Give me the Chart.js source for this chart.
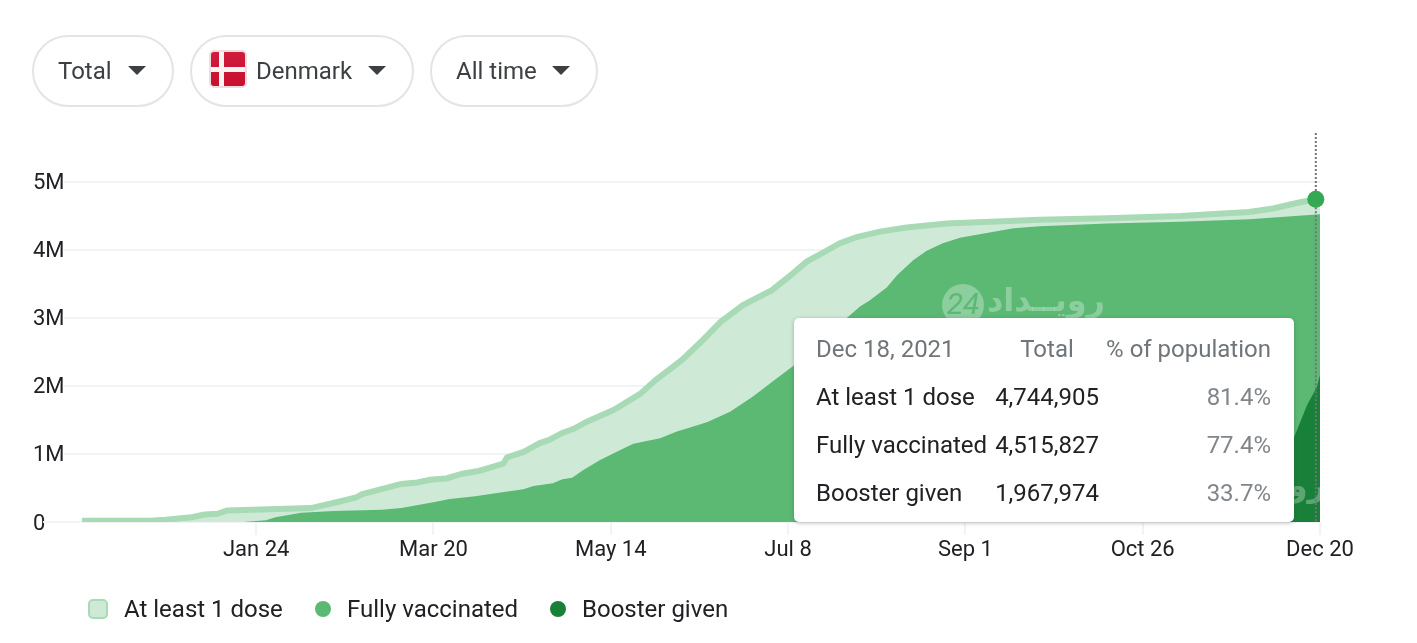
<!DOCTYPE html>
<html>
<head>
<meta charset="utf-8">
<title>Vaccinations in Denmark</title>
<script src="https://cdn.jsdelivr.net/npm/chart.js@4"></script>
<style>
  html, body { margin: 0; padding: 0; background: #fff; }
  body { width: 1417px; height: 643px; position: relative; overflow: hidden; font-family: Roboto, sans-serif; }
  #chart { position: absolute; left: 0; top: 0; }

  /* filter pills */
  .pill { position: absolute; top: 35px; height: 68px; border: 2px solid #e3e3e8; border-radius: 36px; background: #fff;
          font-size: 24px; color: #3c4043; line-height: 68px; }
  .pill span { position: absolute; top: 0; }
  .pill i { position: absolute; top: 29px; width: 0; height: 0; border-left: 9px solid transparent; border-right: 9px solid transparent; border-top: 9px solid #3c4043; }
  .flag { position: absolute; left: 17px; top: 13px; width: 38px; height: 38px; border-radius: 5px; box-sizing: border-box; border: 2px solid #efdde1;
          background: linear-gradient(#cf1b3d, #c8102e); overflow: hidden; }
  .flag:before { content: ""; position: absolute; left: 8px; top: 0; width: 5px; height: 100%; background: #f8f4f4; }
  .flag:after { content: ""; position: absolute; left: 0; top: 15px; width: 100%; height: 5px; background: #f8f4f4; }

  /* hover card */
  #card { position: absolute; left: 794px; top: 318px; width: 500px; height: 204px; background: #fff; border-radius: 5px;
          box-shadow: 0 1px 4px rgba(60,64,67,.35); font-size: 24px; color: #202124; }
  #card div { position: absolute; white-space: nowrap; line-height: 30px; }
  #card .grey { color: #70757a; }
  #card .pct { color: #80868b; }

  /* legend */
  #legend div { position: absolute; top: 594px; line-height: 30px; font-size: 24px; color: #202124; white-space: nowrap; }
  #legend i { position: absolute; box-sizing: border-box; }
</style>
</head>
<body>
<canvas id="chart" width="1417" height="643"></canvas>
<div id="pills"></div>
<div id="card"></div>
<div id="legend"></div>

<script>
/* ================= DATA ================= */
// days counted from Dec 1 2020, values in millions
const oneDoseDays = [0, 21, 26, 34, 38, 42, 45, 53, 71, 78, 85, 87, 95, 99, 104, 108, 113, 118, 123, 126.6, 130.7, 131.8, 137, 142, 145, 149, 152.5, 156.6, 165, 173, 178, 186, 192, 198, 205, 214, 220.6, 224.8, 229.9, 235.1, 240.3, 247.5, 255.8, 268.2, 283.7, 297, 318, 340.6, 362, 369.5, 376.8, 382.7, 384];
const oneDoseValues = [0.02, 0.02, 0.035, 0.07, 0.11, 0.12, 0.17, 0.18, 0.205, 0.28, 0.36, 0.41, 0.51, 0.56, 0.58, 0.62, 0.64, 0.71, 0.75, 0.80, 0.86, 0.95, 1.03, 1.16, 1.21, 1.31, 1.37, 1.475, 1.65, 1.88, 2.09, 2.38, 2.65, 2.94, 3.19, 3.41, 3.66, 3.83, 3.96, 4.10, 4.19, 4.27, 4.33, 4.39, 4.42, 4.445, 4.465, 4.50, 4.56, 4.61, 4.69, 4.745, 4.76];

const fullDays = [50, 57, 60, 68, 78, 93, 99, 109, 114, 122, 126.6, 136.9, 140, 146, 149, 152, 155.5, 160.7, 167.9, 171, 179.3, 184.5, 188.6, 194, 201, 208, 214, 221, 237.2, 241.3, 244.4, 249.6, 252.8, 257.8, 262, 267, 272.3, 280.6, 288.9, 297, 318, 340.6, 362, 384];
const fullValues = [0, 0.025, 0.07, 0.135, 0.16, 0.18, 0.205, 0.29, 0.34, 0.38, 0.41, 0.48, 0.53, 0.57, 0.63, 0.65, 0.765, 0.91, 1.08, 1.15, 1.23, 1.33, 1.39, 1.47, 1.62, 1.84, 2.06, 2.31, 3.0, 3.17, 3.26, 3.45, 3.63, 3.85, 3.99, 4.10, 4.18, 4.25, 4.32, 4.35, 4.39, 4.415, 4.45, 4.525];

const boosterDays = [335, 345, 355, 365, 371, 376, 380, 383, 384];
const boosterValues = [0, 0.05, 0.2, 0.6, 0.95, 1.25, 1.72, 1.98, 2.16];

const xTickDays = [54, 109, 164, 219, 274, 329, 384];
const xTickLabels = ["Jan 24", "Mar 20", "May 14", "Jul 8", "Sep 1", "Oct 26", "Dec 20"];
const yTickValues = [0, 1, 2, 3, 4, 5];
const yTickLabels = ["0", "1M", "2M", "3M", "4M", "5M"];

const seriesNames = ["At least 1 dose", "Fully vaccinated", "Booster given"];
const cardHeader = ["Dec 18, 2021", "Total", "% of population"];
const cardTotals = ["4,744,905", "4,515,827", "1,967,974"];
const cardPercents = ["81.4%", "77.4%", "33.7%"];
const pillLabels = ["Total", "Denmark", "All time"];

const toPoints = (days, values) => days.map((d, i) => ({ x: d, y: values[i] }));

/* ================= PLUGIN ================= */
const extras = {
  id: "extras",
  beforeDraw(chart) {
    // y labels sit a little under the grid line
    chart.scales.y.getLabelItems().forEach(item => { item.options.translation[1] += 2; });
  },
  beforeDatasetsDraw(chart) {
    // the zero line runs on under the "0" label
    const { ctx, chartArea, scales } = chart;
    ctx.save();
    ctx.strokeStyle = "#f1f3f4";
    ctx.lineWidth = 2;
    ctx.beginPath();
    ctx.moveTo(chartArea.left - 21, scales.y.getPixelForValue(0));
    ctx.lineTo(chartArea.left, scales.y.getPixelForValue(0));
    ctx.stroke();
    ctx.restore();
  },
  afterDatasetsDraw(chart) {
    const { ctx, chartArea, scales } = chart;

    // watermark
    ctx.save();
    ctx.beginPath();
    ctx.rect(chartArea.left, chartArea.top, chartArea.right - chartArea.left, chartArea.bottom - chartArea.top);
    ctx.clip();
    ctx.fillStyle = "rgba(255,255,255,0.3)";
    ctx.beginPath();
    ctx.arc(963, 305, 21, 0, Math.PI * 2);
    ctx.fill();
    ctx.font = "bold 32px 'DejaVu Sans'";
    ctx.textBaseline = "middle";
    ctx.textAlign = "right";
    ctx.fillText("رویــداد", 1105, 303);
    ctx.fillText("رویــداد", 1326, 488);
    ctx.fillStyle = "#5bb974";
    ctx.font = "italic 30px Roboto";
    ctx.textAlign = "center";
    ctx.fillText("24", 963, 306);
    ctx.restore();

    // dotted cursor, broken where the marker sits
    const mark = chart.getDatasetMeta(2).data[oneDoseDays.length - 2];
    ctx.save();
    ctx.strokeStyle = "#70757a";
    ctx.lineWidth = 2;
    ctx.setLineDash([2, 2]);
    ctx.beginPath();
    ctx.moveTo(mark.x, chartArea.top);
    ctx.lineTo(mark.x, mark.y - 8);
    ctx.moveTo(mark.x, mark.y + 8);
    ctx.lineTo(mark.x, scales.y.getPixelForValue(0));
    ctx.stroke();
    ctx.restore();
  }
};

/* ================= CHART ================= */
new Chart(document.getElementById("chart"), {
  type: "line",
  plugins: [extras],
  data: {
    datasets: [
      {
        label: seriesNames[2],
        data: toPoints(boosterDays, boosterValues),
        borderWidth: 0,
        backgroundColor: "#188038",
        fill: "origin",
        pointRadius: 0
      },
      {
        label: seriesNames[1],
        data: toPoints(fullDays, fullValues),
        borderWidth: 0,
        backgroundColor: "#5bb974",
        fill: "origin",
        pointRadius: 0
      },
      {
        label: seriesNames[0],
        data: toPoints(oneDoseDays, oneDoseValues),
        borderWidth: 6,
        borderColor: "#a8dab5",
        backgroundColor: "#ceead6",
        fill: "origin",
        clip: { left: 0, top: 0, right: 9, bottom: 0 },
        pointBorderWidth: 0,
        pointBackgroundColor: "#34a853",
        pointRadius: ctx => (ctx.dataIndex === oneDoseDays.length - 2 ? 8.5 : 0)
      }
    ]
  },
  options: {
    responsive: false,
    animation: false,
    events: [],
    layout: { padding: { left: 33, right: 97, top: 133, bottom: 61 } },
    plugins: { legend: { display: false }, tooltip: { enabled: false } },
    scales: {
      x: {
        type: "linear",
        min: -5.6,
        max: 384,
        border: { display: false },
        afterFit: s => { s.height = 60; },
        afterBuildTicks: s => { s.ticks = xTickDays.map(v => ({ value: v })); },
        grid: { drawOnChartArea: false, drawTicks: true, tickLength: 13, color: "#f1f3f4", lineWidth: 2 },
        ticks: {
          autoSkip: false,
          maxRotation: 0,
          padding: 2,
          color: "#202124",
          font: { family: "Roboto", size: 22 },
          callback: v => xTickLabels[xTickDays.indexOf(v)]
        }
      },
      y: {
        min: 0,
        max: 5.72,
        border: { display: false },
        afterFit: s => { s.width = 31; },
        afterBuildTicks: s => { s.ticks = yTickValues.map(v => ({ value: v })); },
        grid: { drawTicks: false, color: "#f1f3f4", lineWidth: 2 },
        ticks: {
          crossAlign: "far",
          padding: 0,
          color: "#202124",
          font: { family: "Roboto", size: 22 },
          callback: v => yTickLabels[yTickValues.indexOf(v)]
        }
      }
    }
  }
});

/* ================= PILLS ================= */
const pillBoxes = [
  { left: 32, width: 138, text: 24, arrow: 94 },
  { left: 190, width: 220, text: 64, arrow: 176, flag: true },
  { left: 430, width: 164, text: 24, arrow: 120 }
];
const pills = document.getElementById("pills");
pillBoxes.forEach((p, i) => {
  const el = document.createElement("div");
  el.className = "pill";
  el.style.left = p.left + "px";
  el.style.width = p.width + "px";
  el.innerHTML = (p.flag ? '<b class="flag"></b>' : "") +
    `<span style="left:${p.text}px">${pillLabels[i]}</span><i style="left:${p.arrow}px"></i>`;
  pills.appendChild(el);
});

/* ================= CARD ================= */
const card = document.getElementById("card");
function cardText(text, y, css, cls) {
  const el = document.createElement("div");
  el.textContent = text;
  el.style.cssText = `top:${y}px;${css}`;
  if (cls) el.className = cls;
  card.appendChild(el);
}
cardText(cardHeader[0], 16, "left:22px", "grey");
cardText(cardHeader[1], 16, "left:201px;width:104px;text-align:center", "grey");
cardText(cardHeader[2], 16, "right:23px", "grey");
seriesNames.forEach((name, i) => {
  const y = 64 + i * 48;
  cardText(name, y, "left:22px");
  cardText(cardTotals[i], y, "right:195px");
  cardText(cardPercents[i], y, "right:23px", "pct");
});

/* ================= LEGEND ================= */
const legendLeft = [124, 347, 582];
const legendSwatch = [
  "left:-36px;top:5px;width:20px;height:20px;border-radius:5px;background:#ceead6;border:2px solid #a8dab5",
  "left:-32px;top:7px;width:16px;height:16px;border-radius:50%;background:#5bb974",
  "left:-32px;top:7px;width:16px;height:16px;border-radius:50%;background:#188038"
];
const legend = document.getElementById("legend");
seriesNames.forEach((name, i) => {
  const el = document.createElement("div");
  el.style.left = legendLeft[i] + "px";
  el.innerHTML = `<i style="${legendSwatch[i]}"></i>${name}`;
  legend.appendChild(el);
});
</script>
</body>
</html>
